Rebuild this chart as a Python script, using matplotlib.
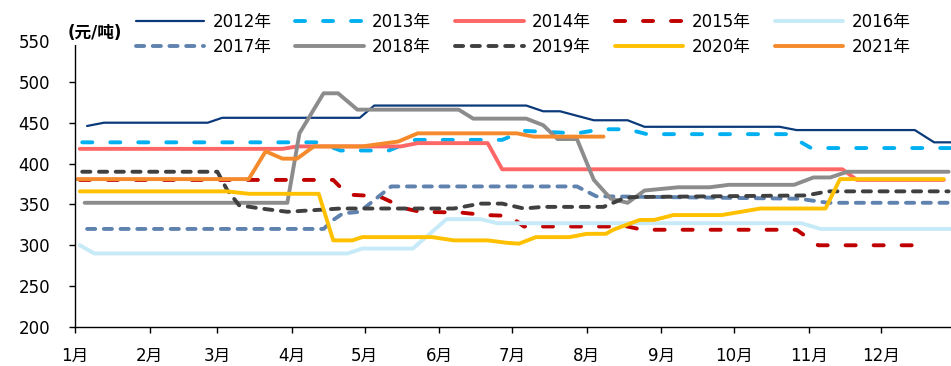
import matplotlib
matplotlib.use("Agg")
import matplotlib.pyplot as plt

plt.rcParams['font.family'] = ['DejaVu Sans', 'Noto Sans CJK SC']

# x = day of year (0 = Jan 1), y = price in 元/吨
days_2012 = [5, 12, 55, 61, 118, 124, 187, 194, 201, 215, 229, 236, 292, 299, 348, 356, 363]
vals_2012 = [446, 450, 450, 456, 456, 471, 471, 464, 464, 453, 453, 445, 445, 441, 441, 426, 426]

days_2013 = [3, 101, 110, 130, 141, 177, 186, 208, 218, 229, 237, 295, 305, 363]
vals_2013 = [426, 426, 416, 416, 429, 429, 440, 437, 442, 442, 436, 436, 419, 419]

days_2014 = [2, 86, 92, 135, 142, 171, 177, 318, 324, 360]
vals_2014 = [418, 418, 421, 421, 425, 425, 393, 393, 380, 380]

days_2015 = [2, 107, 113, 126, 137, 143, 160, 170, 180, 186, 229, 235, 299, 308, 354]
vals_2015 = [380, 380, 362, 360, 345, 341, 340, 337, 336, 323, 323, 319, 319, 300, 300]

days_2016 = [2, 8, 113, 119, 140, 154, 168, 175, 301, 309, 363]
vals_2016 = [300, 290, 290, 296, 296, 332, 332, 327, 327, 320, 320]

days_2017 = [5, 103, 107, 111, 118, 131, 208, 216, 300, 312, 363]
vals_2017 = [320, 320, 331, 339, 341, 372, 372, 360, 357, 352, 352]

days_2018 = [4, 88, 93, 103, 109, 117, 159, 165, 187, 194, 200, 208, 215, 222,
             229, 236, 250, 263, 271, 298, 306, 313, 320, 362]
vals_2018 = [352, 352, 437, 486, 486, 466, 466, 455, 455, 447, 430, 430, 380, 357,
             352, 367, 371, 371, 374, 374, 383, 383, 390, 390]

days_2019 = [3, 59, 63, 68, 77, 88, 110, 157, 168, 177, 186, 194, 219, 227, 231, 303, 312, 362]
vals_2019 = [390, 390, 368, 349, 345, 341, 345, 345, 351, 351, 345, 347, 347, 357, 359, 361, 366, 366]

days_2020 = [2, 63, 72, 101, 107, 115, 119, 148, 157, 171, 179, 184, 191, 205, 212,
             220, 223, 234, 240, 248, 268, 284, 311, 317, 360]
vals_2020 = [366, 366, 363, 363, 306, 306, 310, 310, 306, 306, 303, 302, 310, 310, 314,
             314, 319, 331, 331, 337, 337, 345, 345, 381, 381]

days_2021 = [1, 72, 79, 86, 92, 99, 119, 134, 142, 183, 190, 219]
vals_2021 = [381, 381, 415, 406, 406, 421, 421, 427, 437, 437, 433, 433]

month_starts = [0, 31, 59, 90, 120, 151, 181, 212, 243, 273, 304, 334]
month_labels = ['1月', '2月', '3月', '4月', '5月', '6月', '7月', '8月', '9月', '10月', '11月', '12月']
y_ticks = [200, 250, 300, 350, 400, 450, 500, 550]

long_dash = (2.6, 4.6)
short_dash = (2.1, 2.2)

series = [
    ('2012年', days_2012, vals_2012, '#0B3A7A', 1.6, None),
    ('2013年', days_2013, vals_2013, '#00B0F0', 2.8, long_dash),
    ('2014年', days_2014, vals_2014, '#FF6666', 2.8, None),
    ('2015年', days_2015, vals_2015, '#C00000', 2.8, long_dash),
    ('2016年', days_2016, vals_2016, '#C6EAF8', 2.8, None),
    ('2017年', days_2017, vals_2017, '#5F83AE', 2.8, short_dash),
    ('2018年', days_2018, vals_2018, '#8C8C8C', 2.8, None),
    ('2019年', days_2019, vals_2019, '#404040', 2.8, short_dash),
    ('2020年', days_2020, vals_2020, '#FFC000', 2.8, None),
    ('2021年', days_2021, vals_2021, '#F58A2C', 2.8, None),
]

fig = plt.figure(figsize=(9.51, 3.66), dpi=100)
ax = fig.add_axes([75 / 951, 1 - 327 / 366, 876 / 951, 286 / 366])

handles = []
for label, xs, ys, color, lw, dash in series:
    kw = dict(color=color, lw=lw, label=label, solid_capstyle='round', solid_joinstyle='round')
    if dash is not None:
        kw.update(linestyle='--', dashes=dash, dash_capstyle='round')
    line, = ax.plot(xs, ys, **kw)
    handles.append(line)

ax.set_xlim(0, 363)
ax.set_ylim(200, 550)
ax.set_xticks(month_starts)
ax.set_xticklabels(month_labels)
ax.set_yticks(y_ticks)

for side in ('top', 'right'):
    ax.spines[side].set_visible(False)
for side in ('left', 'bottom'):
    ax.spines[side].set_linewidth(1.0)
    ax.spines[side].set_color('black')

ax.tick_params(axis='x', direction='out', length=4.5, width=1, labelsize=12, pad=10)
ax.tick_params(axis='y', direction='out', length=4, width=1, labelsize=12, pad=14)

fig.text(95 / 951, 1 - 33 / 366, '(元/吨)', fontsize=12, fontweight='bold',
         ha='center', va='center',
         bbox=dict(facecolor='white', edgecolor='none', pad=2))

# legend fills column by column, so interleave the two rows
ncol = 5
order = [i + r * ncol for i in range(ncol) for r in range(2)]
fig.legend([handles[i] for i in order], [series[i][0] for i in order],
           loc='center', bbox_to_anchor=(523 / 951, 1 - 34.5 / 366), ncol=ncol,
           frameon=False, fontsize=12, handlelength=4.1, handletextpad=0.5,
           columnspacing=1.45, labelspacing=0.4, borderpad=0)

fig.savefig('out.png', dpi=100)
